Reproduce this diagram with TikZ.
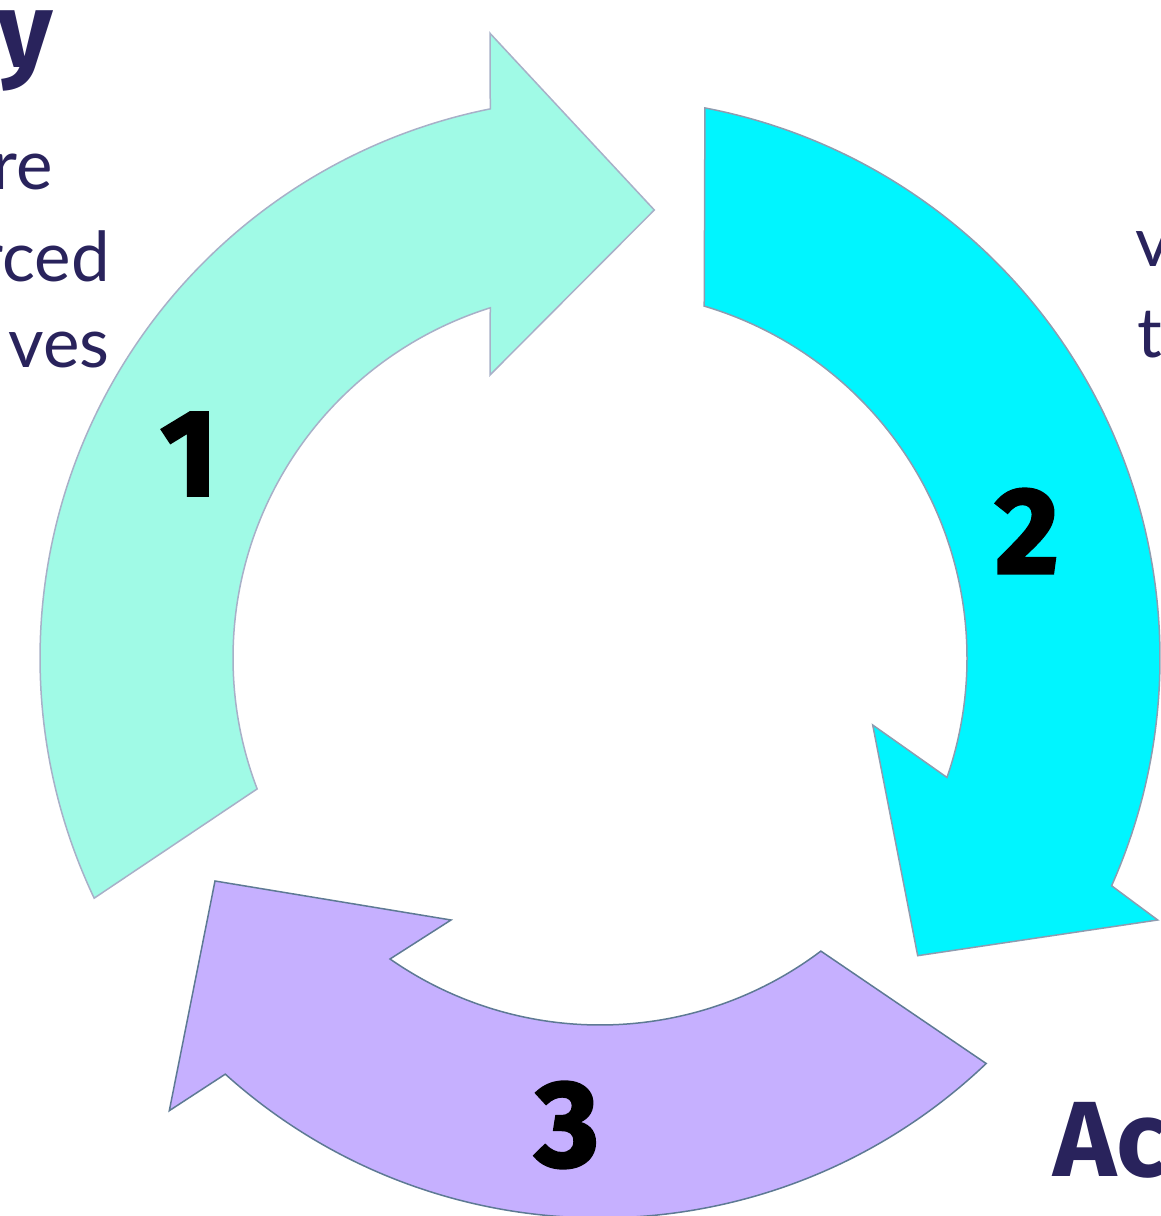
\documentclass[tikz,border=0pt]{standalone}
\usepackage{fontspec}
\setmainfont{Lato}
\newfontfamily\headfont{Fira Sans}
\newfontfamily\numfont{Fira Sans}[FakeBold=2.5]
\definecolor{navy}{HTML}{29235C}
\definecolor{mint}{RGB}{160,250,230}
\definecolor{mintline}{RGB}{168,176,200}
\definecolor{aqua}{RGB}{0,245,255}
\definecolor{aqualine}{RGB}{142,156,176}
\definecolor{lilac}{RGB}{198,176,255}
\definecolor{lilacline}{RGB}{94,122,148}
\tikzset{
  arrowshape/.style={line width=1.5pt, line join=miter},
  numlabel/.style={inner sep=0pt, font=\numfont\bfseries\fontsize{122}{130}\selectfont, text=black},
  bodytext/.style={inner sep=0pt, font=\fontsize{69}{80}\selectfont, text=navy},
  headtext/.style={inner sep=0pt, font=\headfont\bfseries\fontsize{107}{120}\selectfont, text=navy}
}
\begin{document}
\begin{tikzpicture}[x=1pt,y=1pt]
\useasboundingbox (0,0) rectangle (1161,1216);
\clip (0,0) rectangle (1161,1216);
\coordinate (C) at (600,558);
\begin{scope}[shift={(C)}]
  % arrow 1
  \filldraw[arrowshape, fill=mint, draw=mintline]
    (205.4:560) arc[start angle=205.4, end angle=101.3, radius=560]
    -- (-110,624.7) -- (54.3,448) -- (-110,283)
    -- (107.4:367) arc[start angle=107.4, end angle=200.9, radius=367] -- cycle;
  % arrow 2
  \filldraw[arrowshape, fill=aqua, draw=aqualine]
    (79.2:560) arc[start angle=79.2, end angle=-24, radius=560]
    -- (557.7,-262) -- (317.7,-297.7) -- (272.7,-67)
    -- (-19:367) arc[start angle=-19, end angle=73.5, radius=367] -- cycle;
  % arrow 3
  \filldraw[arrowshape, fill=lilac, draw=lilacline]
    (-46.4:560) arc[start angle=-46.4, end angle=-132, radius=560]
    -- (-430.7,-452.7) -- (-385,-223) -- (-149,-262)
    -- (-124.9:367) arc[start angle=-124.9, end angle=-53, radius=367] -- cycle;
\end{scope}
% numbers
\node[numlabel] (n1) at (189,762) {1};
\node[numlabel] (n2) at (1027,685) {2};
\node[numlabel] (n3) at (567,91) {3};
% text fragments
\node[headtext, anchor=base east] (h1) at (53,1148) {y};
\node[bodytext, anchor=base east] (t1) at (53,1026) {re};
\node[bodytext, anchor=base east] (t2) at (110,934) {rced};
\node[bodytext, anchor=base east] (t3) at (110,848) {ves};
\node[bodytext, anchor=base west] (t4) at (1135,949) {v};
\node[bodytext, anchor=base west] (t5) at (1137,858) {t};
\node[headtext, anchor=base west] (h2) at (1053,39) {Ac};
\end{tikzpicture}
\end{document}
